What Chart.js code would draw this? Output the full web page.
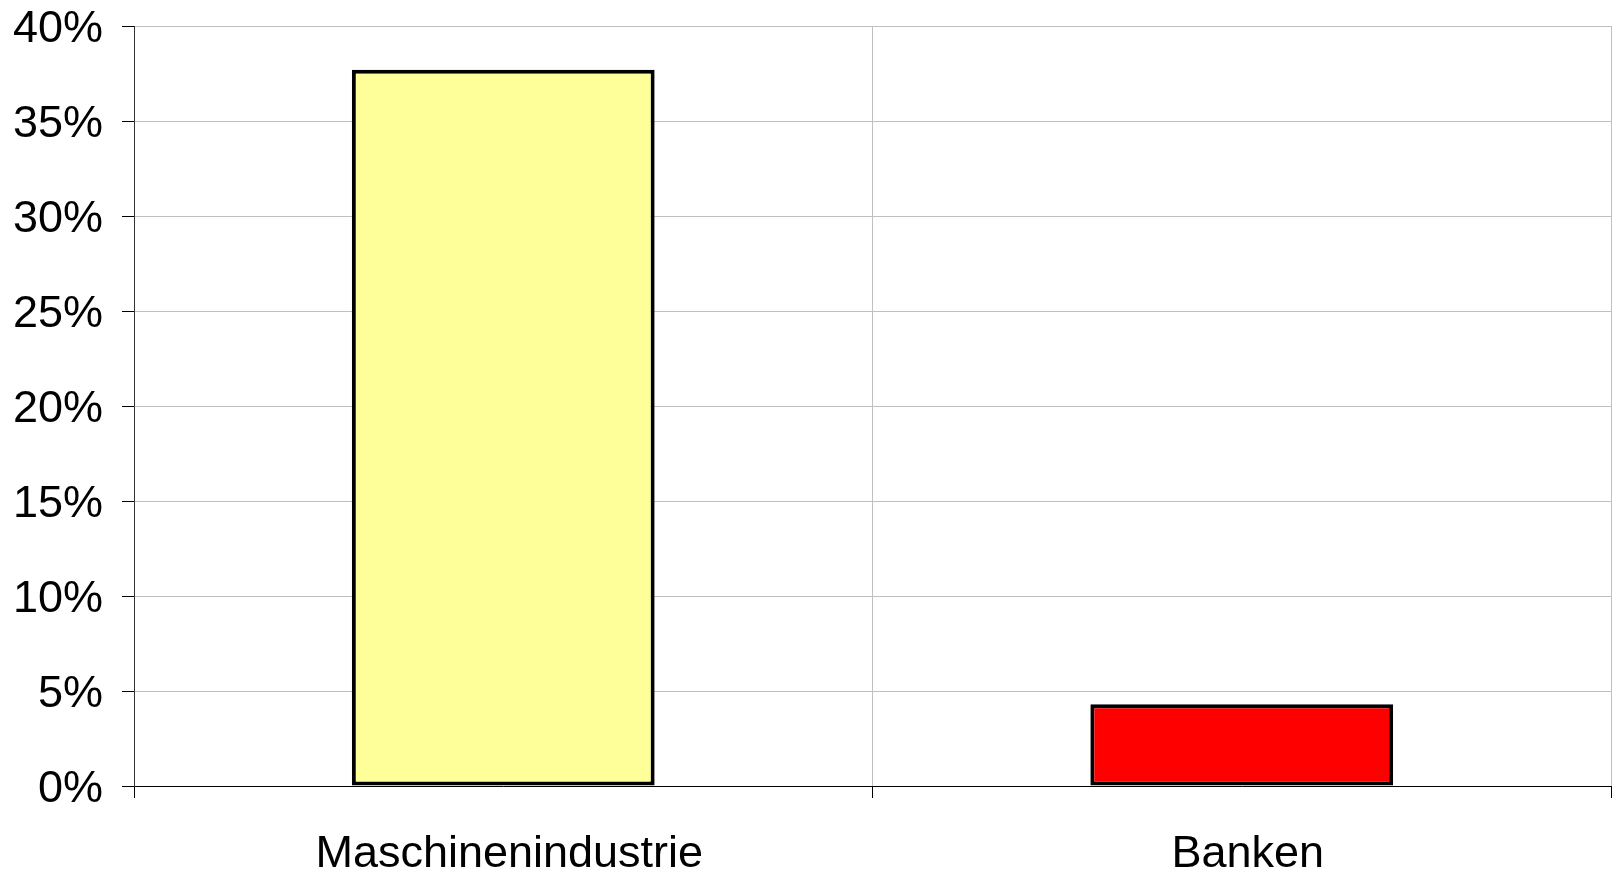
<!DOCTYPE html>
<html>
<head>
<meta charset="utf-8">
<script src="https://cdn.jsdelivr.net/npm/chart.js@4/dist/chart.umd.min.js"></script>
<style>
  html, body { margin: 0; padding: 0; background: #fff; }
  #wrap { width: 1616px; height: 872px; }
</style>
</head>
<body>
<div id="wrap"><canvas id="chart"></canvas></div>
<script>
// Daten
const categories = ['Maschinenindustrie', 'Banken'];
const values = [37.7, 4.3];
const barColors = ['#FFFF99', '#FF0000'];
const yTicks = [0, 5, 10, 15, 20, 25, 30, 35, 40];

const FONT = "'Liberation Sans', Arial, sans-serif";

new Chart(document.getElementById('chart'), {
  type: 'bar',
  data: {
    labels: categories,
    datasets: [{
      data: values,
      backgroundColor: barColors,
      borderColor: '#000000',
      borderWidth: 4,
      borderSkipped: false,
      barPercentage: 0.41,
      categoryPercentage: 1
    }]
  },
  options: {
    responsive: true,
    maintainAspectRatio: false,
    animation: false,
    layout: { padding: { top: 26, right: 5, left: 0, bottom: 0 } },
    plugins: {
      legend: { display: false },
      tooltip: { enabled: false }
    },
    scales: {
      x: {
        grid: { color: '#c0c0c0', tickColor: '#000000', tickLength: 12, offset: true },
        border: { color: '#000000', width: 1 },
        ticks: { color: '#000000', font: { family: FONT, size: 45 }, padding: 30, labelOffset: 6 },
        afterFit: (scale) => {
          scale.height = 86;
          scale.paddingLeft = 0;
          scale.paddingRight = 0;
        }
      },
      y: {
        min: 0,
        max: 40,
        afterBuildTicks: (scale) => { scale.ticks = yTicks.map(v => ({ value: v })); },
        grid: { color: '#c0c0c0', tickColor: '#000000', tickLength: 12 },
        border: { color: '#333333', width: 1 },
        ticks: {
          color: '#000000',
          font: { family: FONT, size: 45 },
          padding: 19,
          labelOffset: 4,
          callback: (v) => v + '%'
        },
        afterFit: (scale) => {
          scale.width = 134;
          scale.paddingTop = 0;
          scale.paddingBottom = 0;
        }
      }
    }
  }
});
</script>
</body>
</html>
